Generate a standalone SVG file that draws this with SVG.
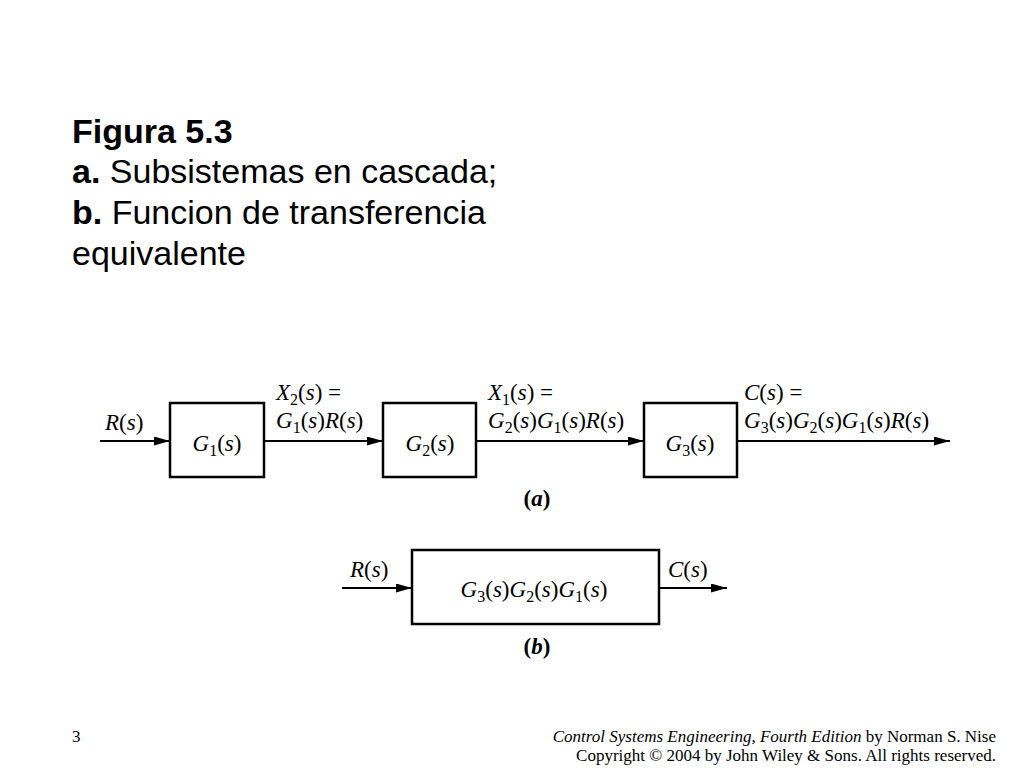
<svg xmlns="http://www.w3.org/2000/svg" width="1024" height="768" viewBox="0 0 1024 768">
<defs>
<style>
.t{font-family:"Liberation Sans",Arial,sans-serif;font-size:34px;fill:#000}
.b{font-weight:bold}
.m{font-family:"Liberation Serif","Times New Roman",serif;font-size:23px;fill:#000}
.i{font-style:italic}
.sub{font-size:16px}
.box{fill:#fff;stroke:#000;stroke-width:2.5}
.ln{stroke:#000;stroke-width:2;fill:none}
.ft{font-family:"Liberation Serif","Times New Roman",serif;font-size:17px;fill:#000}
</style>
<marker id="ah" viewBox="0 0 10 10" refX="10" refY="5" markerWidth="16" markerHeight="9" markerUnits="userSpaceOnUse" orient="auto" preserveAspectRatio="none">
<path d="M0,0 L10,5 L0,10 z" fill="#000"/>
</marker>
</defs>
<rect width="1024" height="768" fill="#fff"/>
<g id="title">
<text class="t b" x="72" y="143">Figura 5.3</text>
<text class="t" x="72" y="183"><tspan class="b">a.</tspan> Subsistemas en cascada;</text>
<text class="t" x="72" y="224"><tspan class="b">b.</tspan> Funcion de transferencia</text>
<text class="t" x="72" y="265">equivalente</text>
</g>
<g id="connectors">
<line class="ln" x1="100" y1="441" x2="170" y2="441" marker-end="url(#ah)"/>
<line class="ln" x1="264" y1="441" x2="383" y2="441" marker-end="url(#ah)"/>
<line class="ln" x1="476" y1="441" x2="644" y2="441" marker-end="url(#ah)"/>
<line class="ln" x1="737" y1="441" x2="950" y2="441" marker-end="url(#ah)"/>
<line class="ln" x1="342" y1="588" x2="412" y2="588" marker-end="url(#ah)"/>
<line class="ln" x1="659" y1="588" x2="727" y2="588" marker-end="url(#ah)"/>
</g>
<g id="G1">
<rect class="box" x="170" y="403" width="94" height="74"/>
<text class="m" x="217" y="451" text-anchor="middle"><tspan class="i">G</tspan><tspan class="sub" dy="5">1</tspan><tspan dy="-5">(</tspan><tspan class="i">s</tspan>)</text>
</g>
<g id="G2">
<rect class="box" x="383" y="403" width="93" height="74"/>
<text class="m" x="430" y="451" text-anchor="middle"><tspan class="i">G</tspan><tspan class="sub" dy="5">2</tspan><tspan dy="-5">(</tspan><tspan class="i">s</tspan>)</text>
</g>
<g id="G3">
<rect class="box" x="644" y="403" width="93" height="74"/>
<text class="m" x="690" y="451" text-anchor="middle"><tspan class="i">G</tspan><tspan class="sub" dy="5">3</tspan><tspan dy="-5">(</tspan><tspan class="i">s</tspan>)</text>
</g>
<g id="Geq">
<rect class="box" x="412" y="550" width="247" height="74"/>
<text class="m" x="534" y="597" text-anchor="middle"><tspan class="i">G</tspan><tspan class="sub" dy="5">3</tspan><tspan dy="-5">(</tspan><tspan class="i">s</tspan>)<tspan class="i">G</tspan><tspan class="sub" dy="5">2</tspan><tspan dy="-5">(</tspan><tspan class="i">s</tspan>)<tspan class="i">G</tspan><tspan class="sub" dy="5">1</tspan><tspan dy="-5">(</tspan><tspan class="i">s</tspan>)</text>
</g>
<g id="labels">
<text class="m" x="105" y="430"><tspan class="i">R</tspan>(<tspan class="i">s</tspan>)</text>
<text class="m" x="276" y="400"><tspan class="i">X</tspan><tspan class="sub" dy="5">2</tspan><tspan dy="-5">(</tspan><tspan class="i">s</tspan>) =</text>
<text class="m" x="276" y="428"><tspan class="i">G</tspan><tspan class="sub" dy="5">1</tspan><tspan dy="-5">(</tspan><tspan class="i">s</tspan>)<tspan class="i">R</tspan>(<tspan class="i">s</tspan>)</text>
<text class="m" x="488" y="400"><tspan class="i">X</tspan><tspan class="sub" dy="5">1</tspan><tspan dy="-5">(</tspan><tspan class="i">s</tspan>) =</text>
<text class="m" x="488" y="428"><tspan class="i">G</tspan><tspan class="sub" dy="5">2</tspan><tspan dy="-5">(</tspan><tspan class="i">s</tspan>)<tspan class="i">G</tspan><tspan class="sub" dy="5">1</tspan><tspan dy="-5">(</tspan><tspan class="i">s</tspan>)<tspan class="i">R</tspan>(<tspan class="i">s</tspan>)</text>
<text class="m" x="744" y="400"><tspan class="i">C</tspan>(<tspan class="i">s</tspan>) =</text>
<text class="m" x="744" y="428"><tspan class="i">G</tspan><tspan class="sub" dy="5">3</tspan><tspan dy="-5">(</tspan><tspan class="i">s</tspan>)<tspan class="i">G</tspan><tspan class="sub" dy="5">2</tspan><tspan dy="-5">(</tspan><tspan class="i">s</tspan>)<tspan class="i">G</tspan><tspan class="sub" dy="5">1</tspan><tspan dy="-5">(</tspan><tspan class="i">s</tspan>)<tspan class="i">R</tspan>(<tspan class="i">s</tspan>)</text>
<text class="m" x="537" y="506" text-anchor="middle" font-weight="bold" font-size="21">(<tspan class="i">a</tspan>)</text>
<text class="m" x="350" y="577"><tspan class="i">R</tspan>(<tspan class="i">s</tspan>)</text>
<text class="m" x="668" y="577"><tspan class="i">C</tspan>(<tspan class="i">s</tspan>)</text>
<text class="m" x="537" y="654" text-anchor="middle" font-weight="bold" font-size="21">(<tspan class="i">b</tspan>)</text>
</g>
<g id="footer">
<text class="ft" x="72" y="742" font-size="18">3</text>
<text class="ft" x="996" y="742" text-anchor="end"><tspan font-style="italic">Control Systems Engineering, Fourth Edition</tspan> by Norman S. Nise</text>
<text class="ft" x="996" y="761" text-anchor="end">Copyright © 2004 by John Wiley &amp; Sons. All rights reserved.</text>
</g>
</svg>
